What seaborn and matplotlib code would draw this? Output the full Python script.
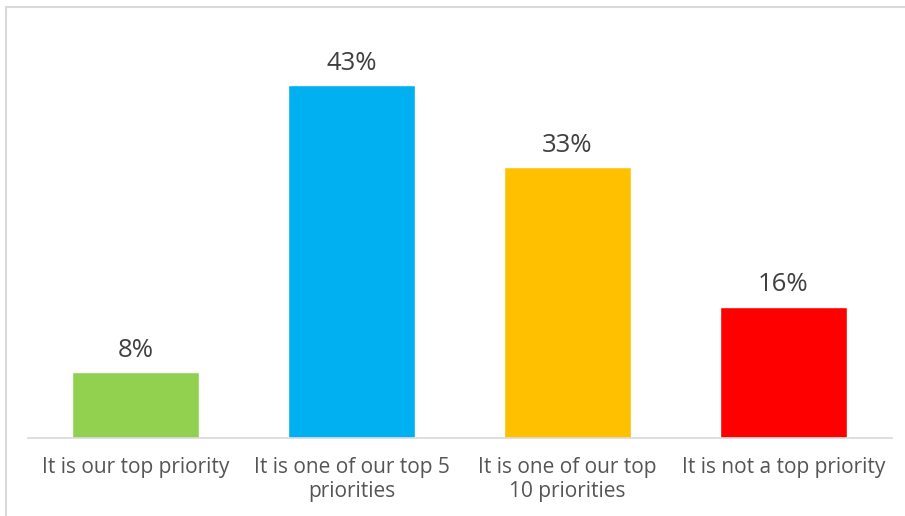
import matplotlib
matplotlib.use("Agg")
import matplotlib.pyplot as plt
import seaborn as sns
from matplotlib.lines import Line2D

# Datos del gráfico
CATEGORIES = [
    "It is our top priority",
    "It is one of our top 5\npriorities",
    "It is one of our top\n10 priorities",
    "It is not a top priority",
]
VALUES = [8, 43, 33, 16]
COLORS = ["#92d050", "#00b0f0", "#ffc000", "#ff0000"]

W, H = 905, 516

sns.set_theme(style="white")
plt.rcParams["font.family"] = ["Open Sans", "DejaVu Sans"]

fig = plt.figure(figsize=(W / 100, H / 100), dpi=100)
ax = fig.add_axes([27.5 / W, (H - 438) / H, (891.5 - 27.5) / W, (438 - 28) / H])

sns.barplot(x=CATEGORIES, y=VALUES, hue=CATEGORIES, palette=COLORS,
            width=0.59, saturation=1, legend=False, ax=ax)

for bar, val in zip(ax.patches, VALUES):
    ax.text(bar.get_x() + bar.get_width() / 2, bar.get_height() + 1.2,
            f"{val}%", ha="center", va="bottom", fontsize=18.5, color="#404040")

ax.set_ylim(0, 50)
ax.set_xlim(-0.5, 3.5)
ax.set_yticks([])
ax.tick_params(axis="x", length=0, pad=14, labelsize=15, labelcolor="#555555")
for lbl in ax.get_xticklabels():
    lbl.set_linespacing(1.15)
for s in ["top", "left", "right"]:
    ax.spines[s].set_visible(False)
ax.spines["bottom"].set_color("#d9d9d9")
ax.spines["bottom"].set_linewidth(1.2)

# marco del gráfico (borde gris claro arriba y a la izquierda)
x0, y0 = 6 / W, 1 - 7 / H
fig.add_artist(Line2D([x0, 1], [y0, y0], transform=fig.transFigure,
                      color="#d9d9d9", linewidth=1.5))
fig.add_artist(Line2D([x0, x0], [0, y0], transform=fig.transFigure,
                      color="#d9d9d9", linewidth=1.5))

fig.savefig("out.png", dpi=100)
